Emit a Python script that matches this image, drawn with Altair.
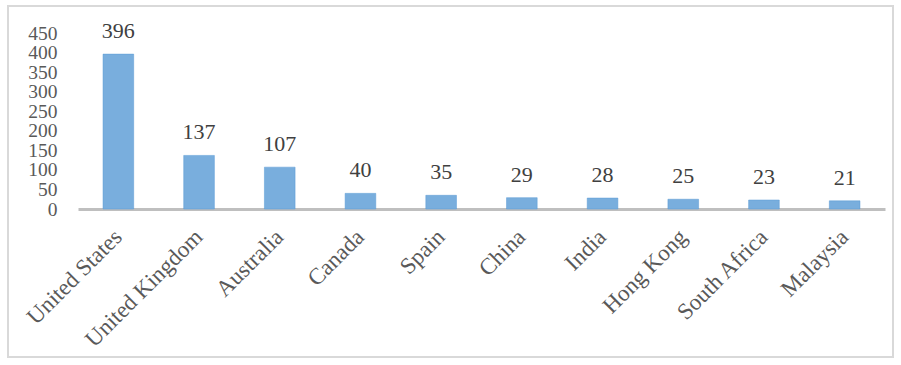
import altair as alt
import pandas as pd

countries = ["United States", "United Kingdom", "Australia", "Canada", "Spain",
             "China", "India", "Hong Kong", "South Africa", "Malaysia"]
counts = [396, 137, 107, 40, 35, 29, 28, 25, 23, 21]

df = pd.DataFrame({"country": countries, "count": counts})

FONT = "Liberation Serif"
TXT = "#595959"

x = alt.X("country:N", sort=countries, title=None,
          scale=alt.Scale(paddingInner=0.62, paddingOuter=0.31),
          axis=alt.Axis(labelAngle=-45, labelAlign="right", labelBaseline="middle",
                        labelPadding=24, ticks=False, domainColor="#BFBFBF",
                        domainWidth=3, labelFont=FONT, labelFontSize=23,
                        labelColor=TXT, labelOverlap=False))
y = alt.Y("count:Q", title=None,
          scale=alt.Scale(domain=[0, 450], nice=False),
          axis=alt.Axis(values=list(range(0, 451, 50)), grid=False, ticks=False,
                        domain=False, labelFont=FONT, labelFontSize=19.5,
                        labelColor=TXT, labelPadding=21, labelOverlap=False,
                        labelBaseline="middle"))

bars = alt.Chart(df).mark_bar(color="#79AEDD", stroke="#5B9BD5", strokeWidth=0.5).encode(x=x, y=y)
labels = alt.Chart(df).mark_text(font=FONT, fontSize=22, color="#404040",
                                 baseline="bottom", dy=-11).encode(
    x=x, y=y, text="count:Q")

border = alt.Chart(df).mark_rect(fill=None, stroke="#D9D9D9", strokeWidth=1.5).encode(
    x=alt.value(-70), x2=alt.value(815), y=alt.value(-27), y2=alt.value(324))

chart = alt.layer(border, bars, labels).properties(
    width=807, height=176,
    autosize=alt.AutoSizeParams(type="none"),
    padding={"left": 78, "top": 33, "right": 16, "bottom": 156},
).configure(background="white").configure_view(strokeWidth=0, stroke="transparent")

chart.save("out.html", embed_options={"renderer": "svg", "actions": False})
